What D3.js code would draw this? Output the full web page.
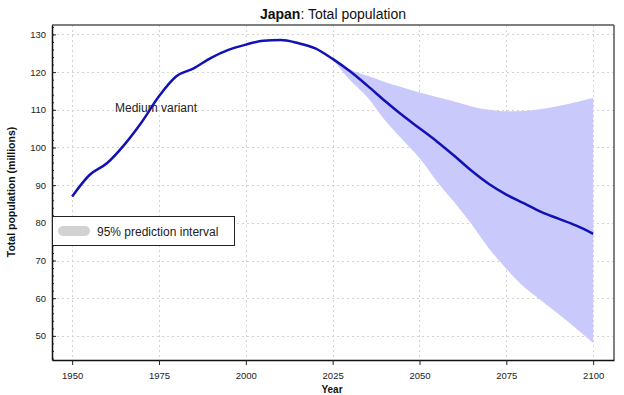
<!DOCTYPE html>
<html>
<head>
<meta charset="utf-8">
<script src="https://cdn.jsdelivr.net/npm/d3@7/dist/d3.min.js"></script>
<style>
  html, body { margin: 0; padding: 0; background: #fff; }
  svg { display: block; font-family: "Liberation Sans", Arial, sans-serif; }
</style>
</head>
<body>
<svg id="chart" width="624" height="395"></svg>
<script>
// ---- data ----
const years = [1950,1955,1960,1965,1970,1975,1980,1985,1990,1995,2000,2005,2010,2015,2020,2025,2030,2035,2040,2045,2050,2055,2060,2065,2070,2075,2080,2085,2090,2095,2100];
const medium = [87.0,92.7,95.8,100.7,106.7,113.6,118.9,121.0,123.8,125.9,127.3,128.3,128.5,127.7,126.3,123.5,120.2,116.4,112.4,108.6,105.1,101.6,97.8,93.8,90.3,87.5,85.2,82.9,81.1,79.3,77.1];
const bandYears = [2025,2030,2035,2040,2045,2050,2055,2060,2065,2070,2075,2080,2085,2090,2095,2100];
const upper95 = [123.5,120.7,119.0,117.4,116.0,114.6,113.4,112.2,110.9,110.0,109.6,109.7,110.2,111.0,112.0,113.1];
const lower95 = [123.5,117.9,113.3,107.3,102.2,97.2,91.0,85.5,79.6,73.2,67.8,63.1,59.4,55.8,52.0,48.1];
const xTicks = [1950,1975,2000,2025,2050,2075,2100];
const yTicks = [50,60,70,80,90,100,110,120,130];
const yMinorTicks = d3.range(44, 133, 2);

const svg = d3.select("#chart");
const L = 52, R = 614, T = 25, B = 360;

const x = d3.scaleLinear().domain([1944.2, 2106]).range([L, R]);
const y = d3.scaleLinear().domain([43.6, 132.5]).range([B, T]);

// gridlines
const grid = svg.append("g").attr("stroke", "#d2d2d2").attr("stroke-width", 1).attr("stroke-dasharray", "2,3");
grid.selectAll("line.v").data(xTicks).join("line")
  .attr("x1", d => Math.round(x(d)) + 0.5).attr("x2", d => Math.round(x(d)) + 0.5)
  .attr("y1", T).attr("y2", B);
grid.selectAll("line.h").data(yTicks).join("line")
  .attr("x1", L).attr("x2", R)
  .attr("y1", d => Math.round(y(d)) + 0.5).attr("y2", d => Math.round(y(d)) + 0.5);

// prediction band
const bandData = bandYears.map((yr, i) => ({yr, lo: lower95[i], hi: upper95[i]}));
svg.append("path")
  .datum(bandData)
  .attr("fill", "#c9c9fb")
  .attr("d", d3.area().x(d => x(d.yr)).y0(d => y(d.lo)).y1(d => y(d.hi)).curve(d3.curveMonotoneX));

// Medium variant label (under the line)
svg.append("text").attr("x", 115).attr("y", 111.5)
  .attr("font-size", 12).attr("fill", "#222").text("Medium variant");

// medium line
const lineData = years.map((yr, i) => ({yr, v: medium[i]}));
svg.append("path")
  .datum(lineData)
  .attr("fill", "none")
  .attr("stroke", "#1212b4")
  .attr("stroke-width", 2.5)
  .attr("d", d3.line().x(d => x(d.yr)).y(d => y(d.v)).curve(d3.curveMonotoneX));

// frame top/right
svg.append("line").attr("x1", L).attr("x2", R).attr("y1", T).attr("y2", T)
  .attr("stroke", "#555").attr("stroke-width", 1.5);
svg.append("line").attr("x1", R).attr("x2", R).attr("y1", T).attr("y2", B)
  .attr("stroke", "#555").attr("stroke-width", 1.5);

// y axis minor ticks
svg.append("g").attr("transform", `translate(${L},0)`)
  .call(d3.axisLeft(y).tickValues(yMinorTicks).tickSize(-2).tickFormat(""))
  .call(g => g.select(".domain").remove())
  .selectAll("line").attr("stroke", "#222");

// y axis major
const yAx = svg.append("g").attr("transform", `translate(${L},0)`)
  .call(d3.axisLeft(y).tickValues(yTicks).tickSize(-4).tickPadding(6).tickSizeOuter(0));
yAx.select(".domain").attr("stroke", "#111").attr("stroke-width", 1.5);
yAx.selectAll("line").attr("stroke", "#222");
yAx.selectAll("text").attr("font-size", 9.5).attr("fill", "#222").attr("font-family", "Liberation Sans, Arial, sans-serif");

// x axis
const xAx = svg.append("g").attr("transform", `translate(0,${B})`)
  .call(d3.axisBottom(x).tickValues(xTicks).tickFormat(d3.format("d")).tickSize(5).tickPadding(7).tickSizeOuter(0));
xAx.select(".domain").attr("stroke", "#111").attr("stroke-width", 1.5);
xAx.selectAll("line").attr("stroke", "#222");
xAx.selectAll("text").attr("font-size", 9.5).attr("fill", "#222").attr("font-family", "Liberation Sans, Arial, sans-serif");

// legend
const lg = svg.append("g");
lg.append("rect").attr("x", 52.5).attr("y", 216.5).attr("width", 182).attr("height", 29)
  .attr("fill", "#fff").attr("stroke", "#222").attr("stroke-width", 1);
lg.append("rect").attr("x", 58).attr("y", 226).attr("width", 32).attr("height", 10).attr("rx", 5)
  .attr("fill", "#d2d2d2");
lg.append("text").attr("x", 97).attr("y", 235.5).attr("font-size", 12).attr("fill", "#222")
  .text("95% prediction interval");

// title
const title = svg.append("text").attr("x", 333).attr("y", 19).attr("text-anchor", "middle")
  .attr("font-size", 14).attr("fill", "#111");
title.append("tspan").attr("font-weight", "bold").text("Japan");
title.append("tspan").text(": Total population");

// axis titles
svg.append("text").attr("transform", "translate(15,192) rotate(-90)")
  .attr("text-anchor", "middle").attr("font-size", 10.5).attr("font-weight", "bold").attr("fill", "#111")
  .text("Total population (millions)");
svg.append("text").attr("x", 332).attr("y", 393).attr("text-anchor", "middle")
  .attr("font-size", 10).attr("font-weight", "bold").attr("fill", "#111").text("Year");
</script>
</body>
</html>
